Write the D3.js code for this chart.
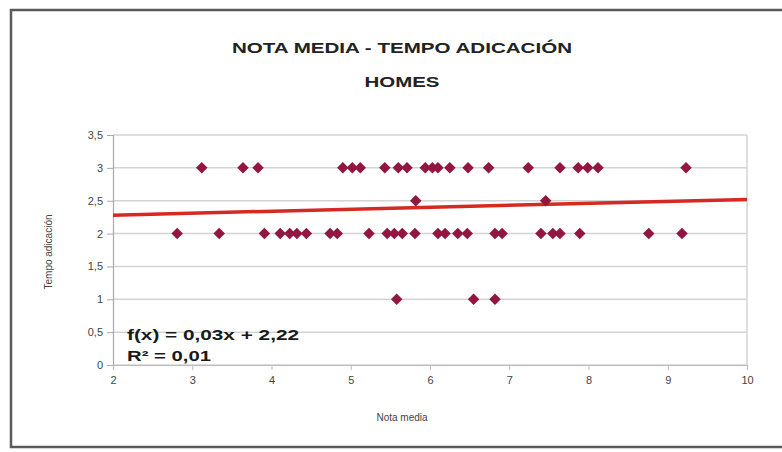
<!DOCTYPE html>
<html>
<head>
<meta charset="utf-8">
<script src="https://cdn.jsdelivr.net/npm/d3@7"></script>
<style>
  body { margin: 0; background: #fff; }
  svg { display: block; }
  text { font-family: "Liberation Sans", Arial, sans-serif; }
</style>
</head>
<body>
<svg id="chart" width="782" height="452"></svg>
<script>
// ---- data ----
const chartTitle = "NOTA MEDIA - TEMPO ADICACIÓN";
const chartSubtitle = "HOMES";
const xLabel = "Nota media";
const yLabel = "Tempo adicación";
const xTicks = [2, 3, 4, 5, 6, 7, 8, 9, 10];
const yTicks = [0, 0.5, 1, 1.5, 2, 2.5, 3, 3.5];
const yTickLabels = ["0", "0,5", "1", "1,5", "2", "2,5", "3", "3,5"];

// nota media (x) for each student, grouped by tempo value (y)
const notaTempo3 = [3.12, 3.64, 3.83, 4.90, 5.02, 5.12, 5.43, 5.60, 5.71, 5.94, 6.03, 6.10, 6.25, 6.48, 6.74, 7.24, 7.64, 7.87, 7.99, 8.12, 9.23];
const notaTempo25 = [5.82, 7.46];
const notaTempo2 = [2.81, 3.34, 3.91, 4.11, 4.23, 4.32, 4.44, 4.74, 4.83, 5.23, 5.46, 5.55, 5.65, 5.81, 6.10, 6.19, 6.35, 6.47, 6.82, 6.91, 7.40, 7.55, 7.64, 7.89, 8.76, 9.18];
const notaTempo1 = [5.58, 6.55, 6.82];

const trendSlope = 0.03;
const trendIntercept = 2.22;
const equationText = "f(x) = 0,03x + 2,22";
const r2Text = "R² = 0,01";

const points = [
  ...notaTempo3.map(x => ({x, y: 3})),
  ...notaTempo25.map(x => ({x, y: 2.5})),
  ...notaTempo2.map(x => ({x, y: 2})),
  ...notaTempo1.map(x => ({x, y: 1}))
];

// ---- drawing ----
const svg = d3.select("#chart");
const plot = {left: 113, right: 747, top: 135, bottom: 365};

const x = d3.scaleLinear().domain([2, 10]).range([plot.left, plot.right]);
const y = d3.scaleLinear().domain([0, 3.5]).range([plot.bottom, plot.top]);

// outer frame
svg.append("rect")
  .attr("x", 11).attr("y", 10).attr("width", 820).attr("height", 437)
  .attr("fill", "#fff").attr("stroke", "#5a5a5a").attr("stroke-width", 2.5);

// titles
svg.append("text")
  .attr("x", 402).attr("y", 53)
  .attr("text-anchor", "middle")
  .attr("font-size", 15).attr("font-weight", "bold").attr("fill", "#222")
  .attr("textLength", 340).attr("lengthAdjust", "spacingAndGlyphs")
  .text(chartTitle);
svg.append("text")
  .attr("x", 402).attr("y", 87)
  .attr("text-anchor", "middle")
  .attr("font-size", 15).attr("font-weight", "bold").attr("fill", "#222")
  .attr("textLength", 75).attr("lengthAdjust", "spacingAndGlyphs")
  .text(chartSubtitle);

// gridlines
svg.append("g")
  .selectAll("line")
  .data(yTicks)
  .join("line")
  .attr("x1", plot.left).attr("x2", plot.right)
  .attr("y1", d => y(d)).attr("y2", d => y(d))
  .attr("stroke", "#d4d4d4").attr("stroke-width", 1.5);

// plot border right
svg.append("line")
  .attr("x1", plot.right).attr("x2", plot.right)
  .attr("y1", plot.top).attr("y2", plot.bottom)
  .attr("stroke", "#d4d4d4").attr("stroke-width", 1.5);

// y axis
const yAxis = d3.axisLeft(y).tickValues(yTicks)
  .tickFormat((d, i) => yTickLabels[i]).tickSize(6).tickPadding(4);
const gy = svg.append("g").attr("transform", `translate(${plot.left},0)`).call(yAxis);
gy.select(".domain").attr("stroke", "#aaa").attr("stroke-width", 1.2);
gy.selectAll(".tick line").attr("stroke", "#aaa");
gy.selectAll(".tick text").attr("font-size", 11).attr("fill", "#444")
  .attr("font-family", "Liberation Sans, Arial, sans-serif");

// x axis
const xAxis = d3.axisBottom(x).tickValues(xTicks).tickSize(5).tickPadding(6);
const gx = svg.append("g").attr("transform", `translate(0,${plot.bottom})`).call(xAxis);
gx.select(".domain").attr("stroke", "#bbb").attr("stroke-width", 1.2);
gx.selectAll(".tick line").attr("stroke", "#bbb");
gx.selectAll(".tick text").attr("font-size", 11).attr("fill", "#444")
  .attr("font-family", "Liberation Sans, Arial, sans-serif");

// axis labels
svg.append("text")
  .attr("x", 402).attr("y", 421)
  .attr("text-anchor", "middle")
  .attr("font-size", 10).attr("fill", "#444")
  .text(xLabel);
svg.append("text")
  .attr("transform", `translate(52,${(plot.top + plot.bottom) / 2 + 2}) rotate(-90)`)
  .attr("text-anchor", "middle")
  .attr("font-size", 10).attr("fill", "#444")
  .text(yLabel);

// trend line
const trend = d3.line().x(d => x(d)).y(d => y(trendSlope * d + trendIntercept));
svg.append("path")
  .datum([2, 10])
  .attr("d", trend)
  .attr("fill", "none").attr("stroke", "#d42a22").attr("stroke-width", 3.5);

// points (diamonds)
const diamond = d3.symbol().type(d3.symbolSquare).size(66);
svg.append("g")
  .selectAll("path")
  .data(points)
  .join("path")
  .attr("d", diamond)
  .attr("transform", d => `translate(${x(d.x)},${y(d.y)}) rotate(45)`)
  .attr("fill", "#921640");

// equation
svg.append("text")
  .attr("x", 127).attr("y", 340)
  .attr("font-size", 15).attr("font-weight", "bold").attr("fill", "#1a1a1a")
  .attr("textLength", 172).attr("lengthAdjust", "spacingAndGlyphs")
  .text(equationText);
svg.append("text")
  .attr("x", 127).attr("y", 361)
  .attr("font-size", 15).attr("font-weight", "bold").attr("fill", "#1a1a1a")
  .attr("textLength", 84).attr("lengthAdjust", "spacingAndGlyphs")
  .text(r2Text);
</script>
</body>
</html>
